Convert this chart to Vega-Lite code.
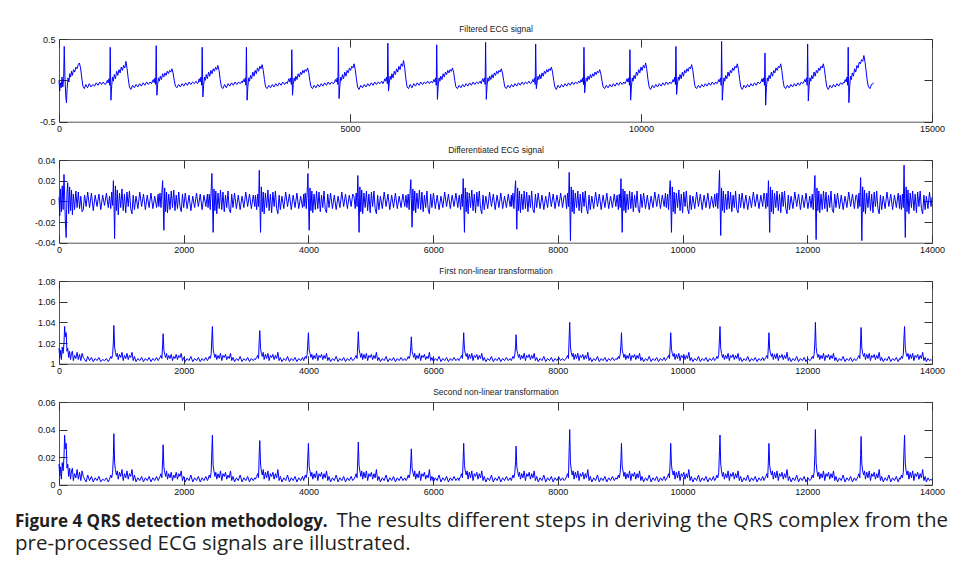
{
"$schema": "https://vega.github.io/schema/vega-lite/v6.json",
"padding": {"left": 14, "top": 24, "right": 5, "bottom": 5},
"background": "white",
"bounds": "flush",
"spacing": 38,
"datasets": {"ecg": [
{"t":0,"f":0,"d":0.004,"a":1.015,"b":0.015},
{"t":12,"f":-0.13,"d":-0.014,"a":1.006,"b":0.006},
{"t":25,"f":-0.03,"d":0.012,"a":1.013,"b":0.013},
{"t":38,"f":-0.09,"d":-0.01,"a":1.004,"b":0.004},
{"t":52,"f":0.04,"d":0.015,"a":1.016,"b":0.016},
{"t":66,"f":-0.08,"d":-0.008,"a":1.01,"b":0.01},
{"t":80,"f":0.02,"d":0.026,"a":1.02,"b":0.02},
{"t":90,"f":0.41,"d":0.006,"a":1.036,"b":0.036},
{"t":102,"f":0.05,"d":-0.02,"a":1.026,"b":0.026},
{"t":115,"f":-0.18,"d":-0.035,"a":1.03,"b":0.03},
{"t":128,"f":-0.27,"d":0.008,"a":1.012,"b":0.012},
{"t":140,"f":-0.1,"d":0.018,"a":1.015,"b":0.015},
{"t":155,"f":0.03,"d":-0.012,"a":1.006,"b":0.006},
{"t":170,"f":-0.02,"d":0.014,"a":1.012,"b":0.012},
{"t":185,"f":0.08,"d":-0.009,"a":1.004,"b":0.004},
{"t":200,"f":0.04,"d":0.011,"a":1.01,"b":0.01},
{"t":215,"f":0.11,"d":-0.013,"a":1.012,"b":0.012},
{"t":230,"f":0.06,"d":0.007,"a":1.003,"b":0.003},
{"t":250,"f":0.13,"d":-0.008,"a":1.008,"b":0.008},
{"t":270,"f":0.1,"d":0.01,"a":1.005,"b":0.005},
{"t":290,"f":0.16,"d":-0.006,"a":1.011,"b":0.011},
{"t":310,"f":0.14,"d":0.009,"a":1.004,"b":0.004},
{"t":330,"f":0.19,"d":-0.007,"a":1.009,"b":0.009},
{"t":350,"f":0.21,"d":0.005,"a":1.003,"b":0.003},
{"t":370,"f":0.15,"d":-0.01,"a":1.01,"b":0.01},
{"t":390,"f":0.04,"d":-0.008,"a":1.006,"b":0.006},
{"t":410,"f":-0.07,"d":0.006,"a":1.004,"b":0.004},
{"t":435,"f":-0.1,"d":-0.005,"a":1.002,"b":0.002},
{"t":460,"f":-0.05,"d":0.009,"a":1.007,"b":0.007},
{"t":490,"f":-0.09,"d":-0.006,"a":1.003,"b":0.003},
{"t":520,"f":-0.04,"d":0.008,"a":1.006,"b":0.006},
{"t":550,"f":-0.08,"d":-0.009,"a":1.002,"b":0.002},
{"t":580,"f":-0.05,"d":0.006,"a":1.005,"b":0.005},
{"t":610,"f":-0.07,"d":-0.005,"a":1.003,"b":0.003},
{"t":640,"f":-0.03,"d":0.007,"a":1.006,"b":0.006},
{"t":670,"f":-0.06,"d":-0.008,"a":1.002,"b":0.002},
{"t":700,"f":-0.02,"d":0.006,"a":1.004,"b":0.004},
{"t":730,"f":-0.05,"d":-0.004,"a":1.003,"b":0.003},
{"t":760,"f":-0.02,"d":0.008,"a":1.005,"b":0.005},
{"t":790,"f":-0.05,"d":-0.006,"a":1.002,"b":0.002},
{"t":810,"f":-0.04,"d":0.005,"a":1.004,"b":0.004},
{"t":830,"f":0,"d":-0.007,"a":1.007,"b":0.007},
{"t":845,"f":-0.03,"d":0.009,"a":1.005,"b":0.005},
{"t":860,"f":0.02,"d":-0.004,"a":1.009,"b":0.009},
{"t":872,"f":-0.06,"d":0.02,"a":1.021,"b":0.021},
{"t":880,"f":0.4,"d":0.003,"a":1.037,"b":0.037},
{"t":892,"f":-0.24,"d":-0.036,"a":1.016,"b":0.016},
{"t":905,"f":-0.07,"d":0.015,"a":1.011,"b":0.011},
{"t":920,"f":0.04,"d":-0.009,"a":1.007,"b":0.007},
{"t":935,"f":-0.01,"d":0.011,"a":1.01,"b":0.01},
{"t":950,"f":0.07,"d":-0.013,"a":1.004,"b":0.004},
{"t":970,"f":0.02,"d":0.008,"a":1.009,"b":0.009},
{"t":990,"f":0.11,"d":-0.006,"a":1.006,"b":0.006},
{"t":1010,"f":0.06,"d":0.012,"a":1.011,"b":0.011},
{"t":1030,"f":0.13,"d":-0.009,"a":1.003,"b":0.003},
{"t":1050,"f":0.09,"d":0.007,"a":1.008,"b":0.008},
{"t":1070,"f":0.16,"d":-0.011,"a":1.005,"b":0.005},
{"t":1090,"f":0.12,"d":0.009,"a":1.01,"b":0.01},
{"t":1110,"f":0.18,"d":-0.005,"a":1.004,"b":0.004},
{"t":1130,"f":0.15,"d":0.01,"a":1.008,"b":0.008},
{"t":1150,"f":0.23,"d":-0.007,"a":1.006,"b":0.006},
{"t":1170,"f":0.14,"d":-0.012,"a":1.011,"b":0.011},
{"t":1190,"f":0.02,"d":0.006,"a":1.003,"b":0.003},
{"t":1210,"f":-0.08,"d":-0.008,"a":1.007,"b":0.007},
{"t":1235,"f":-0.11,"d":0.005,"a":1.002,"b":0.002},
{"t":1265,"f":-0.06,"d":-0.007,"a":1.005,"b":0.005},
{"t":1295,"f":-0.09,"d":0.009,"a":1.003,"b":0.003},
{"t":1325,"f":-0.05,"d":-0.005,"a":1.006,"b":0.006},
{"t":1355,"f":-0.08,"d":0.007,"a":1.002,"b":0.002},
{"t":1385,"f":-0.04,"d":-0.008,"a":1.005,"b":0.005},
{"t":1415,"f":-0.07,"d":0.006,"a":1.003,"b":0.003},
{"t":1445,"f":-0.03,"d":-0.006,"a":1.006,"b":0.006},
{"t":1475,"f":-0.06,"d":0.008,"a":1.002,"b":0.002},
{"t":1505,"f":-0.02,"d":-0.007,"a":1.005,"b":0.005},
{"t":1535,"f":-0.05,"d":0.005,"a":1.003,"b":0.003},
{"t":1565,"f":-0.02,"d":-0.006,"a":1.006,"b":0.006},
{"t":1590,"f":-0.04,"d":0.007,"a":1.003,"b":0.003},
{"t":1600,"f":-0.02,"d":-0.005,"a":1.004,"b":0.004},
{"t":1620,"f":0.01,"d":0.008,"a":1.006,"b":0.006},
{"t":1635,"f":-0.03,"d":-0.006,"a":1.008,"b":0.008},
{"t":1650,"f":0.03,"d":0.009,"a":1.005,"b":0.005},
{"t":1662,"f":-0.05,"d":0.02,"a":1.018,"b":0.018},
{"t":1670,"f":0.42,"d":0.002,"a":1.029,"b":0.029},
{"t":1682,"f":-0.18,"d":-0.028,"a":1.013,"b":0.013},
{"t":1695,"f":-0.05,"d":0.013,"a":1.009,"b":0.009},
{"t":1710,"f":0.03,"d":-0.01,"a":1.006,"b":0.006},
{"t":1725,"f":-0.01,"d":0.009,"a":1.01,"b":0.01},
{"t":1740,"f":0.05,"d":-0.011,"a":1.004,"b":0.004},
{"t":1760,"f":0.01,"d":0.007,"a":1.008,"b":0.008},
{"t":1780,"f":0.08,"d":-0.008,"a":1.005,"b":0.005},
{"t":1800,"f":0.04,"d":0.01,"a":1.009,"b":0.009},
{"t":1820,"f":0.09,"d":-0.006,"a":1.003,"b":0.003},
{"t":1840,"f":0.06,"d":0.011,"a":1.007,"b":0.007},
{"t":1860,"f":0.11,"d":-0.009,"a":1.005,"b":0.005},
{"t":1880,"f":0.08,"d":0.006,"a":1.009,"b":0.009},
{"t":1900,"f":0.12,"d":-0.007,"a":1.004,"b":0.004},
{"t":1920,"f":0.1,"d":0.009,"a":1.008,"b":0.008},
{"t":1940,"f":0.14,"d":-0.005,"a":1.006,"b":0.006},
{"t":1960,"f":0.09,"d":-0.01,"a":1.01,"b":0.01},
{"t":1980,"f":0,"d":0.007,"a":1.003,"b":0.003},
{"t":2000,"f":-0.07,"d":-0.006,"a":1.006,"b":0.006},
{"t":2025,"f":-0.09,"d":0.008,"a":1.002,"b":0.002},
{"t":2055,"f":-0.05,"d":-0.007,"a":1.005,"b":0.005},
{"t":2085,"f":-0.08,"d":0.006,"a":1.003,"b":0.003},
{"t":2115,"f":-0.04,"d":-0.009,"a":1.007,"b":0.007},
{"t":2145,"f":-0.07,"d":0.005,"a":1.002,"b":0.002},
{"t":2175,"f":-0.03,"d":-0.006,"a":1.005,"b":0.005},
{"t":2205,"f":-0.06,"d":0.008,"a":1.003,"b":0.003},
{"t":2235,"f":-0.02,"d":-0.005,"a":1.006,"b":0.006},
{"t":2265,"f":-0.05,"d":0.007,"a":1.002,"b":0.002},
{"t":2295,"f":-0.02,"d":-0.008,"a":1.005,"b":0.005},
{"t":2325,"f":-0.04,"d":0.006,"a":1.003,"b":0.003},
{"t":2355,"f":-0.01,"d":-0.005,"a":1.006,"b":0.006},
{"t":2380,"f":-0.04,"d":0.007,"a":1.003,"b":0.003},
{"t":2390,"f":-0.03,"d":-0.006,"a":1.004,"b":0.004},
{"t":2410,"f":0.02,"d":0.007,"a":1.007,"b":0.007},
{"t":2425,"f":-0.02,"d":-0.008,"a":1.005,"b":0.005},
{"t":2440,"f":0.04,"d":0.01,"a":1.009,"b":0.009},
{"t":2452,"f":-0.06,"d":0.027,"a":1.026,"b":0.026},
{"t":2460,"f":0.4,"d":0.004,"a":1.036,"b":0.036},
{"t":2472,"f":-0.2,"d":-0.03,"a":1.014,"b":0.014},
{"t":2485,"f":-0.06,"d":0.012,"a":1.01,"b":0.01},
{"t":2500,"f":0.04,"d":-0.009,"a":1.006,"b":0.006},
{"t":2515,"f":0,"d":0.01,"a":1.009,"b":0.009},
{"t":2530,"f":0.07,"d":-0.012,"a":1.004,"b":0.004},
{"t":2550,"f":0.02,"d":0.008,"a":1.008,"b":0.008},
{"t":2570,"f":0.1,"d":-0.007,"a":1.005,"b":0.005},
{"t":2590,"f":0.05,"d":0.011,"a":1.01,"b":0.01},
{"t":2610,"f":0.12,"d":-0.008,"a":1.003,"b":0.003},
{"t":2630,"f":0.08,"d":0.009,"a":1.008,"b":0.008},
{"t":2650,"f":0.14,"d":-0.01,"a":1.006,"b":0.006},
{"t":2670,"f":0.11,"d":0.006,"a":1.009,"b":0.009},
{"t":2690,"f":0.16,"d":-0.006,"a":1.004,"b":0.004},
{"t":2710,"f":0.13,"d":0.01,"a":1.007,"b":0.007},
{"t":2730,"f":0.18,"d":-0.008,"a":1.005,"b":0.005},
{"t":2750,"f":0.12,"d":-0.011,"a":1.01,"b":0.01},
{"t":2770,"f":0.01,"d":0.007,"a":1.003,"b":0.003},
{"t":2790,"f":-0.08,"d":-0.006,"a":1.006,"b":0.006},
{"t":2815,"f":-0.1,"d":0.008,"a":1.002,"b":0.002},
{"t":2845,"f":-0.05,"d":-0.007,"a":1.005,"b":0.005},
{"t":2875,"f":-0.09,"d":0.006,"a":1.003,"b":0.003},
{"t":2905,"f":-0.04,"d":-0.008,"a":1.007,"b":0.007},
{"t":2935,"f":-0.07,"d":0.005,"a":1.002,"b":0.002},
{"t":2965,"f":-0.03,"d":-0.006,"a":1.005,"b":0.005},
{"t":2995,"f":-0.06,"d":0.009,"a":1.003,"b":0.003},
{"t":3025,"f":-0.02,"d":-0.005,"a":1.006,"b":0.006},
{"t":3055,"f":-0.05,"d":0.007,"a":1.002,"b":0.002},
{"t":3085,"f":-0.02,"d":-0.007,"a":1.005,"b":0.005},
{"t":3115,"f":-0.04,"d":0.006,"a":1.003,"b":0.003},
{"t":3140,"f":-0.01,"d":-0.005,"a":1.005,"b":0.005},
{"t":3150,"f":-0.03,"d":0.006,"a":1.004,"b":0.004},
{"t":3170,"f":0.01,"d":-0.008,"a":1.006,"b":0.006},
{"t":3185,"f":-0.02,"d":0.007,"a":1.008,"b":0.008},
{"t":3200,"f":0.03,"d":-0.005,"a":1.005,"b":0.005},
{"t":3212,"f":-0.06,"d":0.03,"a":1.024,"b":0.024},
{"t":3220,"f":0.4,"d":0.002,"a":1.032,"b":0.032},
{"t":3232,"f":-0.24,"d":-0.03,"a":1.015,"b":0.015},
{"t":3245,"f":-0.08,"d":0.014,"a":1.01,"b":0.01},
{"t":3260,"f":0.03,"d":-0.01,"a":1.007,"b":0.007},
{"t":3275,"f":-0.01,"d":0.009,"a":1.011,"b":0.011},
{"t":3290,"f":0.06,"d":-0.012,"a":1.004,"b":0.004},
{"t":3310,"f":0.02,"d":0.008,"a":1.009,"b":0.009},
{"t":3330,"f":0.1,"d":-0.006,"a":1.005,"b":0.005},
{"t":3350,"f":0.05,"d":0.011,"a":1.01,"b":0.01},
{"t":3370,"f":0.12,"d":-0.009,"a":1.003,"b":0.003},
{"t":3390,"f":0.08,"d":0.007,"a":1.008,"b":0.008},
{"t":3410,"f":0.15,"d":-0.011,"a":1.006,"b":0.006},
{"t":3430,"f":0.11,"d":0.009,"a":1.009,"b":0.009},
{"t":3450,"f":0.17,"d":-0.005,"a":1.004,"b":0.004},
{"t":3470,"f":0.14,"d":0.01,"a":1.008,"b":0.008},
{"t":3490,"f":0.19,"d":-0.007,"a":1.005,"b":0.005},
{"t":3510,"f":0.12,"d":-0.012,"a":1.011,"b":0.011},
{"t":3530,"f":0.01,"d":0.006,"a":1.003,"b":0.003},
{"t":3550,"f":-0.08,"d":-0.008,"a":1.006,"b":0.006},
{"t":3575,"f":-0.1,"d":0.005,"a":1.002,"b":0.002},
{"t":3605,"f":-0.06,"d":-0.007,"a":1.005,"b":0.005},
{"t":3635,"f":-0.09,"d":0.009,"a":1.003,"b":0.003},
{"t":3665,"f":-0.05,"d":-0.005,"a":1.007,"b":0.007},
{"t":3695,"f":-0.08,"d":0.007,"a":1.002,"b":0.002},
{"t":3725,"f":-0.04,"d":-0.008,"a":1.005,"b":0.005},
{"t":3755,"f":-0.07,"d":0.006,"a":1.003,"b":0.003},
{"t":3785,"f":-0.03,"d":-0.006,"a":1.006,"b":0.006},
{"t":3815,"f":-0.06,"d":0.008,"a":1.002,"b":0.002},
{"t":3845,"f":-0.02,"d":-0.007,"a":1.005,"b":0.005},
{"t":3875,"f":-0.05,"d":0.005,"a":1.003,"b":0.003},
{"t":3905,"f":-0.02,"d":-0.006,"a":1.006,"b":0.006},
{"t":3925,"f":-0.04,"d":0.007,"a":1.003,"b":0.003},
{"t":3930,"f":-0.02,"d":-0.005,"a":1.004,"b":0.004},
{"t":3950,"f":0.02,"d":0.008,"a":1.007,"b":0.007},
{"t":3965,"f":-0.02,"d":-0.007,"a":1.005,"b":0.005},
{"t":3980,"f":0.03,"d":0.009,"a":1.009,"b":0.009},
{"t":3992,"f":-0.05,"d":0.027,"a":1.022,"b":0.022},
{"t":4000,"f":0.37,"d":0.003,"a":1.03,"b":0.03},
{"t":4012,"f":-0.18,"d":-0.028,"a":1.013,"b":0.013},
{"t":4025,"f":-0.05,"d":0.013,"a":1.01,"b":0.01},
{"t":4040,"f":0.03,"d":-0.009,"a":1.006,"b":0.006},
{"t":4055,"f":-0.01,"d":0.01,"a":1.009,"b":0.009},
{"t":4070,"f":0.05,"d":-0.011,"a":1.004,"b":0.004},
{"t":4090,"f":0.01,"d":0.007,"a":1.008,"b":0.008},
{"t":4110,"f":0.08,"d":-0.008,"a":1.005,"b":0.005},
{"t":4130,"f":0.04,"d":0.01,"a":1.01,"b":0.01},
{"t":4150,"f":0.1,"d":-0.007,"a":1.003,"b":0.003},
{"t":4170,"f":0.07,"d":0.009,"a":1.008,"b":0.008},
{"t":4190,"f":0.12,"d":-0.01,"a":1.006,"b":0.006},
{"t":4210,"f":0.09,"d":0.006,"a":1.009,"b":0.009},
{"t":4230,"f":0.13,"d":-0.006,"a":1.004,"b":0.004},
{"t":4250,"f":0.11,"d":0.01,"a":1.008,"b":0.008},
{"t":4270,"f":0.15,"d":-0.008,"a":1.005,"b":0.005},
{"t":4290,"f":0.1,"d":-0.011,"a":1.01,"b":0.01},
{"t":4310,"f":0,"d":0.007,"a":1.003,"b":0.003},
{"t":4330,"f":-0.08,"d":-0.006,"a":1.006,"b":0.006},
{"t":4355,"f":-0.1,"d":0.008,"a":1.002,"b":0.002},
{"t":4385,"f":-0.06,"d":-0.007,"a":1.005,"b":0.005},
{"t":4415,"f":-0.09,"d":0.006,"a":1.003,"b":0.003},
{"t":4445,"f":-0.05,"d":-0.008,"a":1.007,"b":0.007},
{"t":4475,"f":-0.08,"d":0.005,"a":1.002,"b":0.002},
{"t":4505,"f":-0.04,"d":-0.006,"a":1.005,"b":0.005},
{"t":4535,"f":-0.07,"d":0.009,"a":1.003,"b":0.003},
{"t":4565,"f":-0.03,"d":-0.005,"a":1.006,"b":0.006},
{"t":4595,"f":-0.06,"d":0.007,"a":1.002,"b":0.002},
{"t":4625,"f":-0.02,"d":-0.007,"a":1.005,"b":0.005},
{"t":4655,"f":-0.05,"d":0.006,"a":1.003,"b":0.003},
{"t":4685,"f":-0.02,"d":-0.005,"a":1.006,"b":0.006},
{"t":4710,"f":-0.04,"d":0.007,"a":1.003,"b":0.003},
{"t":4730,"f":-0.03,"d":0.005,"a":1.004,"b":0.004},
{"t":4750,"f":0.01,"d":-0.007,"a":1.006,"b":0.006},
{"t":4765,"f":-0.02,"d":0.008,"a":1.008,"b":0.008},
{"t":4780,"f":0.03,"d":-0.005,"a":1.005,"b":0.005},
{"t":4792,"f":-0.05,"d":0.025,"a":1.02,"b":0.02},
{"t":4800,"f":0.4,"d":0.004,"a":1.031,"b":0.031},
{"t":4812,"f":-0.22,"d":-0.03,"a":1.014,"b":0.014},
{"t":4825,"f":-0.07,"d":0.014,"a":1.01,"b":0.01},
{"t":4840,"f":0.04,"d":-0.01,"a":1.006,"b":0.006},
{"t":4855,"f":0,"d":0.011,"a":1.01,"b":0.01},
{"t":4870,"f":0.07,"d":-0.012,"a":1.004,"b":0.004},
{"t":4890,"f":0.02,"d":0.008,"a":1.009,"b":0.009},
{"t":4910,"f":0.1,"d":-0.006,"a":1.005,"b":0.005},
{"t":4930,"f":0.05,"d":0.01,"a":1.01,"b":0.01},
{"t":4950,"f":0.12,"d":-0.009,"a":1.003,"b":0.003},
{"t":4970,"f":0.09,"d":0.007,"a":1.008,"b":0.008},
{"t":4990,"f":0.15,"d":-0.011,"a":1.006,"b":0.006},
{"t":5010,"f":0.12,"d":0.009,"a":1.009,"b":0.009},
{"t":5030,"f":0.17,"d":-0.005,"a":1.004,"b":0.004},
{"t":5050,"f":0.15,"d":0.01,"a":1.008,"b":0.008},
{"t":5070,"f":0.2,"d":-0.007,"a":1.005,"b":0.005},
{"t":5090,"f":0.13,"d":-0.012,"a":1.011,"b":0.011},
{"t":5110,"f":0.02,"d":0.006,"a":1.003,"b":0.003},
{"t":5130,"f":-0.08,"d":-0.008,"a":1.006,"b":0.006},
{"t":5155,"f":-0.11,"d":0.005,"a":1.002,"b":0.002},
{"t":5185,"f":-0.06,"d":-0.007,"a":1.005,"b":0.005},
{"t":5215,"f":-0.09,"d":0.009,"a":1.003,"b":0.003},
{"t":5245,"f":-0.05,"d":-0.005,"a":1.007,"b":0.007},
{"t":5275,"f":-0.08,"d":0.007,"a":1.002,"b":0.002},
{"t":5305,"f":-0.04,"d":-0.008,"a":1.005,"b":0.005},
{"t":5335,"f":-0.07,"d":0.006,"a":1.003,"b":0.003},
{"t":5365,"f":-0.03,"d":-0.006,"a":1.006,"b":0.006},
{"t":5395,"f":-0.06,"d":0.008,"a":1.002,"b":0.002},
{"t":5425,"f":-0.02,"d":-0.007,"a":1.005,"b":0.005},
{"t":5455,"f":-0.05,"d":0.005,"a":1.003,"b":0.003},
{"t":5485,"f":-0.02,"d":-0.006,"a":1.006,"b":0.006},
{"t":5515,"f":-0.04,"d":0.007,"a":1.003,"b":0.003},
{"t":5545,"f":-0.01,"d":-0.005,"a":1.005,"b":0.005},
{"t":5565,"f":-0.04,"d":0.006,"a":1.003,"b":0.003},
{"t":5580,"f":-0.02,"d":-0.006,"a":1.004,"b":0.004},
{"t":5600,"f":0.02,"d":0.007,"a":1.007,"b":0.007},
{"t":5615,"f":-0.01,"d":-0.008,"a":1.005,"b":0.005},
{"t":5630,"f":0.04,"d":0.009,"a":1.008,"b":0.008},
{"t":5642,"f":-0.04,"d":0.021,"a":1.017,"b":0.017},
{"t":5650,"f":0.45,"d":0.003,"a":1.026,"b":0.026},
{"t":5662,"f":-0.13,"d":-0.025,"a":1.012,"b":0.012},
{"t":5675,"f":-0.03,"d":0.012,"a":1.009,"b":0.009},
{"t":5690,"f":0.05,"d":-0.009,"a":1.006,"b":0.006},
{"t":5705,"f":0.01,"d":0.01,"a":1.01,"b":0.01},
{"t":5720,"f":0.08,"d":-0.011,"a":1.004,"b":0.004},
{"t":5740,"f":0.03,"d":0.008,"a":1.008,"b":0.008},
{"t":5760,"f":0.11,"d":-0.007,"a":1.005,"b":0.005},
{"t":5780,"f":0.07,"d":0.011,"a":1.01,"b":0.01},
{"t":5800,"f":0.14,"d":-0.008,"a":1.003,"b":0.003},
{"t":5820,"f":0.1,"d":0.009,"a":1.008,"b":0.008},
{"t":5840,"f":0.17,"d":-0.01,"a":1.006,"b":0.006},
{"t":5860,"f":0.13,"d":0.006,"a":1.009,"b":0.009},
{"t":5880,"f":0.2,"d":-0.006,"a":1.004,"b":0.004},
{"t":5900,"f":0.17,"d":0.01,"a":1.007,"b":0.007},
{"t":5920,"f":0.24,"d":-0.008,"a":1.005,"b":0.005},
{"t":5940,"f":0.15,"d":-0.012,"a":1.011,"b":0.011},
{"t":5960,"f":0.02,"d":0.007,"a":1.003,"b":0.003},
{"t":5980,"f":-0.08,"d":-0.006,"a":1.006,"b":0.006},
{"t":6005,"f":-0.1,"d":0.008,"a":1.002,"b":0.002},
{"t":6035,"f":-0.05,"d":-0.007,"a":1.005,"b":0.005},
{"t":6065,"f":-0.09,"d":0.006,"a":1.003,"b":0.003},
{"t":6095,"f":-0.04,"d":-0.008,"a":1.007,"b":0.007},
{"t":6125,"f":-0.07,"d":0.005,"a":1.002,"b":0.002},
{"t":6155,"f":-0.03,"d":-0.006,"a":1.005,"b":0.005},
{"t":6185,"f":-0.06,"d":0.009,"a":1.003,"b":0.003},
{"t":6215,"f":-0.02,"d":-0.005,"a":1.006,"b":0.006},
{"t":6245,"f":-0.05,"d":0.007,"a":1.002,"b":0.002},
{"t":6275,"f":-0.02,"d":-0.007,"a":1.005,"b":0.005},
{"t":6305,"f":-0.04,"d":0.006,"a":1.003,"b":0.003},
{"t":6335,"f":-0.01,"d":-0.005,"a":1.006,"b":0.006},
{"t":6365,"f":-0.04,"d":0.008,"a":1.003,"b":0.003},
{"t":6395,"f":-0.01,"d":-0.006,"a":1.005,"b":0.005},
{"t":6415,"f":-0.03,"d":0.005,"a":1.003,"b":0.003},
{"t":6420,"f":-0.03,"d":0.006,"a":1.004,"b":0.004},
{"t":6440,"f":0.01,"d":-0.008,"a":1.006,"b":0.006},
{"t":6455,"f":-0.02,"d":0.007,"a":1.008,"b":0.008},
{"t":6470,"f":0.03,"d":-0.005,"a":1.005,"b":0.005},
{"t":6482,"f":-0.06,"d":0.022,"a":1.019,"b":0.019},
{"t":6490,"f":0.43,"d":0.002,"a":1.03,"b":0.03},
{"t":6502,"f":-0.23,"d":-0.03,"a":1.014,"b":0.014},
{"t":6515,"f":-0.07,"d":0.013,"a":1.01,"b":0.01},
{"t":6530,"f":0.03,"d":-0.01,"a":1.007,"b":0.007},
{"t":6545,"f":-0.01,"d":0.009,"a":1.01,"b":0.01},
{"t":6560,"f":0.05,"d":-0.012,"a":1.004,"b":0.004},
{"t":6580,"f":0.01,"d":0.008,"a":1.009,"b":0.009},
{"t":6600,"f":0.08,"d":-0.006,"a":1.005,"b":0.005},
{"t":6620,"f":0.04,"d":0.011,"a":1.01,"b":0.01},
{"t":6640,"f":0.1,"d":-0.009,"a":1.003,"b":0.003},
{"t":6660,"f":0.07,"d":0.007,"a":1.008,"b":0.008},
{"t":6680,"f":0.12,"d":-0.011,"a":1.006,"b":0.006},
{"t":6700,"f":0.09,"d":0.009,"a":1.009,"b":0.009},
{"t":6720,"f":0.13,"d":-0.005,"a":1.004,"b":0.004},
{"t":6740,"f":0.11,"d":0.01,"a":1.008,"b":0.008},
{"t":6760,"f":0.15,"d":-0.007,"a":1.005,"b":0.005},
{"t":6780,"f":0.1,"d":-0.012,"a":1.01,"b":0.01},
{"t":6800,"f":0,"d":0.006,"a":1.003,"b":0.003},
{"t":6820,"f":-0.08,"d":-0.008,"a":1.006,"b":0.006},
{"t":6845,"f":-0.1,"d":0.005,"a":1.002,"b":0.002},
{"t":6875,"f":-0.06,"d":-0.007,"a":1.005,"b":0.005},
{"t":6905,"f":-0.09,"d":0.009,"a":1.003,"b":0.003},
{"t":6935,"f":-0.05,"d":-0.005,"a":1.007,"b":0.007},
{"t":6965,"f":-0.08,"d":0.007,"a":1.002,"b":0.002},
{"t":6995,"f":-0.04,"d":-0.008,"a":1.005,"b":0.005},
{"t":7025,"f":-0.07,"d":0.006,"a":1.003,"b":0.003},
{"t":7055,"f":-0.03,"d":-0.006,"a":1.006,"b":0.006},
{"t":7085,"f":-0.06,"d":0.008,"a":1.002,"b":0.002},
{"t":7115,"f":-0.02,"d":-0.007,"a":1.005,"b":0.005},
{"t":7145,"f":-0.05,"d":0.005,"a":1.003,"b":0.003},
{"t":7175,"f":-0.02,"d":-0.006,"a":1.006,"b":0.006},
{"t":7205,"f":-0.04,"d":0.007,"a":1.003,"b":0.003},
{"t":7235,"f":-0.01,"d":-0.005,"a":1.005,"b":0.005},
{"t":7255,"f":-0.04,"d":0.006,"a":1.003,"b":0.003},
{"t":7260,"f":-0.02,"d":-0.005,"a":1.004,"b":0.004},
{"t":7280,"f":0.02,"d":0.008,"a":1.007,"b":0.007},
{"t":7295,"f":-0.02,"d":-0.007,"a":1.005,"b":0.005},
{"t":7310,"f":0.03,"d":0.009,"a":1.009,"b":0.009},
{"t":7322,"f":-0.05,"d":0.02,"a":1.017,"b":0.017},
{"t":7330,"f":0.46,"d":0.003,"a":1.028,"b":0.028},
{"t":7342,"f":-0.23,"d":-0.027,"a":1.013,"b":0.013},
{"t":7355,"f":-0.06,"d":0.013,"a":1.01,"b":0.01},
{"t":7370,"f":0.03,"d":-0.009,"a":1.006,"b":0.006},
{"t":7385,"f":-0.01,"d":0.01,"a":1.009,"b":0.009},
{"t":7400,"f":0.05,"d":-0.011,"a":1.004,"b":0.004},
{"t":7420,"f":0.01,"d":0.007,"a":1.008,"b":0.008},
{"t":7440,"f":0.07,"d":-0.008,"a":1.005,"b":0.005},
{"t":7460,"f":0.03,"d":0.01,"a":1.01,"b":0.01},
{"t":7480,"f":0.09,"d":-0.007,"a":1.003,"b":0.003},
{"t":7500,"f":0.06,"d":0.009,"a":1.008,"b":0.008},
{"t":7520,"f":0.11,"d":-0.01,"a":1.006,"b":0.006},
{"t":7540,"f":0.08,"d":0.006,"a":1.009,"b":0.009},
{"t":7560,"f":0.12,"d":-0.006,"a":1.004,"b":0.004},
{"t":7580,"f":0.1,"d":0.01,"a":1.008,"b":0.008},
{"t":7600,"f":0.14,"d":-0.008,"a":1.005,"b":0.005},
{"t":7620,"f":0.09,"d":-0.011,"a":1.01,"b":0.01},
{"t":7640,"f":0,"d":0.007,"a":1.003,"b":0.003},
{"t":7660,"f":-0.08,"d":-0.006,"a":1.006,"b":0.006},
{"t":7685,"f":-0.1,"d":0.008,"a":1.002,"b":0.002},
{"t":7715,"f":-0.06,"d":-0.007,"a":1.005,"b":0.005},
{"t":7745,"f":-0.09,"d":0.006,"a":1.003,"b":0.003},
{"t":7775,"f":-0.05,"d":-0.008,"a":1.007,"b":0.007},
{"t":7805,"f":-0.08,"d":0.005,"a":1.002,"b":0.002},
{"t":7835,"f":-0.04,"d":-0.006,"a":1.005,"b":0.005},
{"t":7865,"f":-0.07,"d":0.009,"a":1.003,"b":0.003},
{"t":7895,"f":-0.03,"d":-0.005,"a":1.006,"b":0.006},
{"t":7925,"f":-0.06,"d":0.007,"a":1.002,"b":0.002},
{"t":7955,"f":-0.02,"d":-0.007,"a":1.005,"b":0.005},
{"t":7985,"f":-0.05,"d":0.006,"a":1.003,"b":0.003},
{"t":8015,"f":-0.02,"d":-0.005,"a":1.006,"b":0.006},
{"t":8045,"f":-0.04,"d":0.008,"a":1.003,"b":0.003},
{"t":8075,"f":-0.01,"d":-0.006,"a":1.005,"b":0.005},
{"t":8100,"f":-0.04,"d":0.005,"a":1.003,"b":0.003},
{"t":8120,"f":-0.03,"d":0.006,"a":1.004,"b":0.004},
{"t":8140,"f":0.01,"d":-0.007,"a":1.006,"b":0.006},
{"t":8155,"f":-0.02,"d":0.008,"a":1.008,"b":0.008},
{"t":8170,"f":0.03,"d":-0.005,"a":1.005,"b":0.005},
{"t":8182,"f":-0.05,"d":0.028,"a":1.027,"b":0.027},
{"t":8190,"f":0.44,"d":0.004,"a":1.04,"b":0.04},
{"t":8202,"f":-0.1,"d":-0.038,"a":1.016,"b":0.016},
{"t":8215,"f":-0.02,"d":0.014,"a":1.011,"b":0.011},
{"t":8230,"f":0.05,"d":-0.01,"a":1.007,"b":0.007},
{"t":8245,"f":0.01,"d":0.011,"a":1.01,"b":0.01},
{"t":8260,"f":0.07,"d":-0.012,"a":1.004,"b":0.004},
{"t":8280,"f":0.02,"d":0.008,"a":1.009,"b":0.009},
{"t":8300,"f":0.09,"d":-0.006,"a":1.005,"b":0.005},
{"t":8320,"f":0.05,"d":0.01,"a":1.01,"b":0.01},
{"t":8340,"f":0.11,"d":-0.009,"a":1.003,"b":0.003},
{"t":8360,"f":0.08,"d":0.007,"a":1.008,"b":0.008},
{"t":8380,"f":0.13,"d":-0.011,"a":1.006,"b":0.006},
{"t":8400,"f":0.1,"d":0.009,"a":1.009,"b":0.009},
{"t":8420,"f":0.14,"d":-0.005,"a":1.004,"b":0.004},
{"t":8440,"f":0.12,"d":0.01,"a":1.008,"b":0.008},
{"t":8460,"f":0.16,"d":-0.007,"a":1.005,"b":0.005},
{"t":8480,"f":0.1,"d":-0.012,"a":1.011,"b":0.011},
{"t":8500,"f":0,"d":0.006,"a":1.003,"b":0.003},
{"t":8520,"f":-0.08,"d":-0.008,"a":1.006,"b":0.006},
{"t":8545,"f":-0.11,"d":0.005,"a":1.002,"b":0.002},
{"t":8575,"f":-0.06,"d":-0.007,"a":1.005,"b":0.005},
{"t":8605,"f":-0.09,"d":0.009,"a":1.003,"b":0.003},
{"t":8635,"f":-0.05,"d":-0.005,"a":1.007,"b":0.007},
{"t":8665,"f":-0.08,"d":0.007,"a":1.002,"b":0.002},
{"t":8695,"f":-0.04,"d":-0.008,"a":1.005,"b":0.005},
{"t":8725,"f":-0.07,"d":0.006,"a":1.003,"b":0.003},
{"t":8755,"f":-0.03,"d":-0.006,"a":1.006,"b":0.006},
{"t":8785,"f":-0.06,"d":0.008,"a":1.002,"b":0.002},
{"t":8815,"f":-0.02,"d":-0.007,"a":1.005,"b":0.005},
{"t":8845,"f":-0.05,"d":0.005,"a":1.003,"b":0.003},
{"t":8875,"f":-0.02,"d":-0.006,"a":1.006,"b":0.006},
{"t":8905,"f":-0.04,"d":0.007,"a":1.003,"b":0.003},
{"t":8930,"f":-0.01,"d":-0.005,"a":1.005,"b":0.005},
{"t":8950,"f":-0.03,"d":0.006,"a":1.004,"b":0.004},
{"t":8970,"f":0.01,"d":-0.008,"a":1.007,"b":0.007},
{"t":8985,"f":-0.02,"d":0.007,"a":1.005,"b":0.005},
{"t":9000,"f":0.03,"d":-0.006,"a":1.009,"b":0.009},
{"t":9012,"f":-0.05,"d":0.022,"a":1.019,"b":0.019},
{"t":9020,"f":0.4,"d":0.003,"a":1.03,"b":0.03},
{"t":9032,"f":-0.15,"d":-0.03,"a":1.013,"b":0.013},
{"t":9045,"f":-0.04,"d":0.012,"a":1.01,"b":0.01},
{"t":9060,"f":0.03,"d":-0.009,"a":1.006,"b":0.006},
{"t":9075,"f":-0.01,"d":0.01,"a":1.009,"b":0.009},
{"t":9090,"f":0.05,"d":-0.011,"a":1.004,"b":0.004},
{"t":9110,"f":0.01,"d":0.007,"a":1.008,"b":0.008},
{"t":9130,"f":0.07,"d":-0.008,"a":1.005,"b":0.005},
{"t":9150,"f":0.03,"d":0.01,"a":1.01,"b":0.01},
{"t":9170,"f":0.08,"d":-0.007,"a":1.003,"b":0.003},
{"t":9190,"f":0.05,"d":0.009,"a":1.008,"b":0.008},
{"t":9210,"f":0.1,"d":-0.01,"a":1.006,"b":0.006},
{"t":9230,"f":0.07,"d":0.006,"a":1.009,"b":0.009},
{"t":9250,"f":0.11,"d":-0.006,"a":1.004,"b":0.004},
{"t":9270,"f":0.09,"d":0.01,"a":1.008,"b":0.008},
{"t":9290,"f":0.13,"d":-0.008,"a":1.005,"b":0.005},
{"t":9310,"f":0.08,"d":-0.011,"a":1.01,"b":0.01},
{"t":9330,"f":-0.01,"d":0.007,"a":1.003,"b":0.003},
{"t":9350,"f":-0.08,"d":-0.006,"a":1.006,"b":0.006},
{"t":9375,"f":-0.1,"d":0.008,"a":1.002,"b":0.002},
{"t":9405,"f":-0.06,"d":-0.007,"a":1.005,"b":0.005},
{"t":9435,"f":-0.09,"d":0.006,"a":1.003,"b":0.003},
{"t":9465,"f":-0.05,"d":-0.008,"a":1.007,"b":0.007},
{"t":9495,"f":-0.08,"d":0.005,"a":1.002,"b":0.002},
{"t":9525,"f":-0.04,"d":-0.006,"a":1.005,"b":0.005},
{"t":9555,"f":-0.07,"d":0.009,"a":1.003,"b":0.003},
{"t":9585,"f":-0.03,"d":-0.005,"a":1.006,"b":0.006},
{"t":9615,"f":-0.06,"d":0.007,"a":1.002,"b":0.002},
{"t":9645,"f":-0.02,"d":-0.007,"a":1.005,"b":0.005},
{"t":9675,"f":-0.05,"d":0.006,"a":1.003,"b":0.003},
{"t":9705,"f":-0.02,"d":-0.005,"a":1.006,"b":0.006},
{"t":9725,"f":-0.04,"d":0.008,"a":1.003,"b":0.003},
{"t":9740,"f":-0.02,"d":-0.006,"a":1.004,"b":0.004},
{"t":9760,"f":0.02,"d":0.007,"a":1.006,"b":0.006},
{"t":9775,"f":-0.02,"d":-0.008,"a":1.008,"b":0.008},
{"t":9790,"f":0.03,"d":0.009,"a":1.005,"b":0.005},
{"t":9802,"f":-0.06,"d":0.02,"a":1.018,"b":0.018},
{"t":9810,"f":0.37,"d":0.002,"a":1.03,"b":0.03},
{"t":9822,"f":-0.24,"d":-0.03,"a":1.014,"b":0.014},
{"t":9835,"f":-0.08,"d":0.014,"a":1.01,"b":0.01},
{"t":9850,"f":0.03,"d":-0.01,"a":1.007,"b":0.007},
{"t":9865,"f":-0.01,"d":0.009,"a":1.01,"b":0.01},
{"t":9880,"f":0.06,"d":-0.012,"a":1.004,"b":0.004},
{"t":9900,"f":0.02,"d":0.008,"a":1.009,"b":0.009},
{"t":9920,"f":0.1,"d":-0.006,"a":1.005,"b":0.005},
{"t":9940,"f":0.06,"d":0.011,"a":1.01,"b":0.01},
{"t":9960,"f":0.13,"d":-0.009,"a":1.003,"b":0.003},
{"t":9980,"f":0.09,"d":0.007,"a":1.008,"b":0.008},
{"t":10000,"f":0.16,"d":-0.011,"a":1.006,"b":0.006},
{"t":10020,"f":0.12,"d":0.009,"a":1.009,"b":0.009},
{"t":10040,"f":0.18,"d":-0.005,"a":1.004,"b":0.004},
{"t":10060,"f":0.15,"d":0.01,"a":1.008,"b":0.008},
{"t":10080,"f":0.21,"d":-0.007,"a":1.005,"b":0.005},
{"t":10100,"f":0.13,"d":-0.012,"a":1.011,"b":0.011},
{"t":10120,"f":0.01,"d":0.006,"a":1.003,"b":0.003},
{"t":10140,"f":-0.08,"d":-0.008,"a":1.006,"b":0.006},
{"t":10165,"f":-0.11,"d":0.005,"a":1.002,"b":0.002},
{"t":10195,"f":-0.06,"d":-0.007,"a":1.005,"b":0.005},
{"t":10225,"f":-0.09,"d":0.009,"a":1.003,"b":0.003},
{"t":10255,"f":-0.05,"d":-0.005,"a":1.007,"b":0.007},
{"t":10285,"f":-0.08,"d":0.007,"a":1.002,"b":0.002},
{"t":10315,"f":-0.04,"d":-0.008,"a":1.005,"b":0.005},
{"t":10345,"f":-0.07,"d":0.006,"a":1.003,"b":0.003},
{"t":10375,"f":-0.03,"d":-0.006,"a":1.006,"b":0.006},
{"t":10405,"f":-0.06,"d":0.008,"a":1.002,"b":0.002},
{"t":10435,"f":-0.02,"d":-0.007,"a":1.005,"b":0.005},
{"t":10465,"f":-0.05,"d":0.005,"a":1.003,"b":0.003},
{"t":10495,"f":-0.02,"d":-0.006,"a":1.006,"b":0.006},
{"t":10515,"f":-0.04,"d":0.007,"a":1.003,"b":0.003},
{"t":10530,"f":-0.03,"d":-0.005,"a":1.004,"b":0.004},
{"t":10550,"f":0.01,"d":0.008,"a":1.007,"b":0.007},
{"t":10565,"f":-0.02,"d":-0.007,"a":1.005,"b":0.005},
{"t":10580,"f":0.04,"d":0.009,"a":1.009,"b":0.009},
{"t":10592,"f":-0.05,"d":0.03,"a":1.025,"b":0.025},
{"t":10600,"f":0.41,"d":0.004,"a":1.036,"b":0.036},
{"t":10612,"f":-0.17,"d":-0.033,"a":1.015,"b":0.015},
{"t":10625,"f":-0.05,"d":0.013,"a":1.01,"b":0.01},
{"t":10640,"f":0.04,"d":-0.009,"a":1.006,"b":0.006},
{"t":10655,"f":0,"d":0.01,"a":1.009,"b":0.009},
{"t":10670,"f":0.07,"d":-0.011,"a":1.004,"b":0.004},
{"t":10690,"f":0.02,"d":0.007,"a":1.008,"b":0.008},
{"t":10710,"f":0.1,"d":-0.008,"a":1.005,"b":0.005},
{"t":10730,"f":0.05,"d":0.01,"a":1.01,"b":0.01},
{"t":10750,"f":0.12,"d":-0.007,"a":1.003,"b":0.003},
{"t":10770,"f":0.09,"d":0.009,"a":1.008,"b":0.008},
{"t":10790,"f":0.14,"d":-0.01,"a":1.006,"b":0.006},
{"t":10810,"f":0.11,"d":0.006,"a":1.009,"b":0.009},
{"t":10830,"f":0.16,"d":-0.006,"a":1.004,"b":0.004},
{"t":10850,"f":0.14,"d":0.01,"a":1.008,"b":0.008},
{"t":10870,"f":0.19,"d":-0.008,"a":1.005,"b":0.005},
{"t":10890,"f":0.12,"d":-0.011,"a":1.01,"b":0.01},
{"t":10910,"f":0.01,"d":0.007,"a":1.003,"b":0.003},
{"t":10930,"f":-0.08,"d":-0.006,"a":1.006,"b":0.006},
{"t":10955,"f":-0.1,"d":0.008,"a":1.002,"b":0.002},
{"t":10985,"f":-0.06,"d":-0.007,"a":1.005,"b":0.005},
{"t":11015,"f":-0.09,"d":0.006,"a":1.003,"b":0.003},
{"t":11045,"f":-0.05,"d":-0.008,"a":1.007,"b":0.007},
{"t":11075,"f":-0.08,"d":0.005,"a":1.002,"b":0.002},
{"t":11105,"f":-0.04,"d":-0.006,"a":1.005,"b":0.005},
{"t":11135,"f":-0.07,"d":0.009,"a":1.003,"b":0.003},
{"t":11165,"f":-0.03,"d":-0.005,"a":1.006,"b":0.006},
{"t":11195,"f":-0.06,"d":0.007,"a":1.002,"b":0.002},
{"t":11225,"f":-0.02,"d":-0.007,"a":1.005,"b":0.005},
{"t":11255,"f":-0.05,"d":0.006,"a":1.003,"b":0.003},
{"t":11285,"f":-0.02,"d":-0.005,"a":1.006,"b":0.006},
{"t":11305,"f":-0.04,"d":0.008,"a":1.003,"b":0.003},
{"t":11315,"f":-0.03,"d":0.006,"a":1.004,"b":0.004},
{"t":11335,"f":0.01,"d":-0.007,"a":1.006,"b":0.006},
{"t":11350,"f":-0.02,"d":0.008,"a":1.008,"b":0.008},
{"t":11365,"f":0.03,"d":-0.005,"a":1.005,"b":0.005},
{"t":11377,"f":-0.06,"d":0.02,"a":1.018,"b":0.018},
{"t":11385,"f":0.47,"d":0.003,"a":1.03,"b":0.03},
{"t":11397,"f":-0.24,"d":-0.03,"a":1.014,"b":0.014},
{"t":11410,"f":-0.08,"d":0.014,"a":1.01,"b":0.01},
{"t":11425,"f":0.03,"d":-0.01,"a":1.007,"b":0.007},
{"t":11440,"f":-0.01,"d":0.011,"a":1.01,"b":0.01},
{"t":11455,"f":0.06,"d":-0.012,"a":1.004,"b":0.004},
{"t":11475,"f":0.02,"d":0.008,"a":1.009,"b":0.009},
{"t":11495,"f":0.1,"d":-0.006,"a":1.005,"b":0.005},
{"t":11515,"f":0.05,"d":0.01,"a":1.01,"b":0.01},
{"t":11535,"f":0.12,"d":-0.009,"a":1.003,"b":0.003},
{"t":11555,"f":0.09,"d":0.007,"a":1.008,"b":0.008},
{"t":11575,"f":0.15,"d":-0.011,"a":1.006,"b":0.006},
{"t":11595,"f":0.12,"d":0.009,"a":1.009,"b":0.009},
{"t":11615,"f":0.17,"d":-0.005,"a":1.004,"b":0.004},
{"t":11635,"f":0.15,"d":0.01,"a":1.008,"b":0.008},
{"t":11655,"f":0.2,"d":-0.007,"a":1.005,"b":0.005},
{"t":11675,"f":0.13,"d":-0.012,"a":1.011,"b":0.011},
{"t":11695,"f":0.01,"d":0.006,"a":1.003,"b":0.003},
{"t":11715,"f":-0.08,"d":-0.008,"a":1.006,"b":0.006},
{"t":11740,"f":-0.11,"d":0.005,"a":1.002,"b":0.002},
{"t":11770,"f":-0.06,"d":-0.007,"a":1.005,"b":0.005},
{"t":11800,"f":-0.09,"d":0.009,"a":1.003,"b":0.003},
{"t":11830,"f":-0.05,"d":-0.005,"a":1.007,"b":0.007},
{"t":11860,"f":-0.08,"d":0.007,"a":1.002,"b":0.002},
{"t":11890,"f":-0.04,"d":-0.008,"a":1.005,"b":0.005},
{"t":11920,"f":-0.07,"d":0.006,"a":1.003,"b":0.003},
{"t":11950,"f":-0.03,"d":-0.006,"a":1.006,"b":0.006},
{"t":11980,"f":-0.06,"d":0.008,"a":1.002,"b":0.002},
{"t":12010,"f":-0.02,"d":-0.007,"a":1.005,"b":0.005},
{"t":12040,"f":-0.04,"d":0.005,"a":1.003,"b":0.003},
{"t":12060,"f":-0.02,"d":-0.006,"a":1.004,"b":0.004},
{"t":12080,"f":0.02,"d":0.007,"a":1.007,"b":0.007},
{"t":12095,"f":-0.02,"d":-0.008,"a":1.005,"b":0.005},
{"t":12110,"f":0.03,"d":0.009,"a":1.009,"b":0.009},
{"t":12122,"f":-0.06,"d":0.025,"a":1.022,"b":0.022},
{"t":12130,"f":0.33,"d":0.003,"a":1.04,"b":0.04},
{"t":12142,"f":-0.3,"d":-0.037,"a":1.016,"b":0.016},
{"t":12155,"f":-0.09,"d":0.013,"a":1.01,"b":0.01},
{"t":12170,"f":0.03,"d":-0.009,"a":1.006,"b":0.006},
{"t":12185,"f":-0.01,"d":0.01,"a":1.009,"b":0.009},
{"t":12200,"f":0.06,"d":-0.011,"a":1.004,"b":0.004},
{"t":12220,"f":0.02,"d":0.007,"a":1.008,"b":0.008},
{"t":12240,"f":0.1,"d":-0.008,"a":1.005,"b":0.005},
{"t":12260,"f":0.05,"d":0.01,"a":1.01,"b":0.01},
{"t":12280,"f":0.12,"d":-0.007,"a":1.003,"b":0.003},
{"t":12300,"f":0.09,"d":0.009,"a":1.008,"b":0.008},
{"t":12320,"f":0.15,"d":-0.01,"a":1.006,"b":0.006},
{"t":12340,"f":0.12,"d":0.006,"a":1.009,"b":0.009},
{"t":12360,"f":0.17,"d":-0.006,"a":1.004,"b":0.004},
{"t":12380,"f":0.15,"d":0.01,"a":1.008,"b":0.008},
{"t":12400,"f":0.2,"d":-0.008,"a":1.005,"b":0.005},
{"t":12420,"f":0.12,"d":-0.011,"a":1.01,"b":0.01},
{"t":12440,"f":0,"d":0.007,"a":1.003,"b":0.003},
{"t":12460,"f":-0.08,"d":-0.006,"a":1.006,"b":0.006},
{"t":12485,"f":-0.1,"d":0.008,"a":1.002,"b":0.002},
{"t":12515,"f":-0.06,"d":-0.007,"a":1.005,"b":0.005},
{"t":12545,"f":-0.09,"d":0.006,"a":1.003,"b":0.003},
{"t":12575,"f":-0.05,"d":-0.008,"a":1.007,"b":0.007},
{"t":12605,"f":-0.08,"d":0.005,"a":1.002,"b":0.002},
{"t":12635,"f":-0.04,"d":-0.006,"a":1.005,"b":0.005},
{"t":12665,"f":-0.07,"d":0.009,"a":1.003,"b":0.003},
{"t":12695,"f":-0.03,"d":-0.005,"a":1.006,"b":0.006},
{"t":12725,"f":-0.06,"d":0.007,"a":1.002,"b":0.002},
{"t":12755,"f":-0.02,"d":-0.007,"a":1.005,"b":0.005},
{"t":12780,"f":-0.04,"d":0.006,"a":1.003,"b":0.003},
{"t":12793,"f":-0.03,"d":0.006,"a":1.004,"b":0.004},
{"t":12813,"f":0.01,"d":-0.007,"a":1.006,"b":0.006},
{"t":12828,"f":-0.02,"d":0.008,"a":1.008,"b":0.008},
{"t":12843,"f":0.03,"d":-0.005,"a":1.005,"b":0.005},
{"t":12855,"f":-0.06,"d":0.023,"a":1.021,"b":0.021},
{"t":12863,"f":0.44,"d":0.004,"a":1.035,"b":0.035},
{"t":12875,"f":-0.25,"d":-0.038,"a":1.015,"b":0.015},
{"t":12888,"f":-0.08,"d":0.014,"a":1.01,"b":0.01},
{"t":12903,"f":0.03,"d":-0.01,"a":1.007,"b":0.007},
{"t":12918,"f":-0.01,"d":0.011,"a":1.01,"b":0.01},
{"t":12933,"f":0.06,"d":-0.012,"a":1.004,"b":0.004},
{"t":12953,"f":0.02,"d":0.008,"a":1.009,"b":0.009},
{"t":12973,"f":0.1,"d":-0.006,"a":1.005,"b":0.005},
{"t":12993,"f":0.05,"d":0.01,"a":1.01,"b":0.01},
{"t":13013,"f":0.12,"d":-0.009,"a":1.003,"b":0.003},
{"t":13033,"f":0.09,"d":0.007,"a":1.008,"b":0.008},
{"t":13053,"f":0.15,"d":-0.011,"a":1.006,"b":0.006},
{"t":13073,"f":0.12,"d":0.009,"a":1.009,"b":0.009},
{"t":13093,"f":0.17,"d":-0.005,"a":1.004,"b":0.004},
{"t":13113,"f":0.15,"d":0.01,"a":1.008,"b":0.008},
{"t":13133,"f":0.2,"d":-0.007,"a":1.005,"b":0.005},
{"t":13153,"f":0.13,"d":-0.012,"a":1.011,"b":0.011},
{"t":13173,"f":0.01,"d":0.006,"a":1.003,"b":0.003},
{"t":13193,"f":-0.08,"d":-0.008,"a":1.006,"b":0.006},
{"t":13218,"f":-0.11,"d":0.005,"a":1.002,"b":0.002},
{"t":13248,"f":-0.06,"d":-0.007,"a":1.005,"b":0.005},
{"t":13278,"f":-0.09,"d":0.009,"a":1.003,"b":0.003},
{"t":13308,"f":-0.05,"d":-0.005,"a":1.007,"b":0.007},
{"t":13338,"f":-0.08,"d":0.007,"a":1.002,"b":0.002},
{"t":13368,"f":-0.04,"d":-0.008,"a":1.005,"b":0.005},
{"t":13398,"f":-0.07,"d":0.006,"a":1.003,"b":0.003},
{"t":13428,"f":-0.03,"d":-0.006,"a":1.006,"b":0.006},
{"t":13458,"f":-0.05,"d":0.008,"a":1.002,"b":0.002},
{"t":13480,"f":-0.02,"d":-0.007,"a":1.005,"b":0.005},
{"t":13490,"f":-0.03,"d":0.006,"a":1.004,"b":0.004},
{"t":13510,"f":0.01,"d":-0.008,"a":1.007,"b":0.007},
{"t":13525,"f":-0.02,"d":0.007,"a":1.005,"b":0.005},
{"t":13540,"f":0.04,"d":-0.006,"a":1.009,"b":0.009},
{"t":13552,"f":-0.06,"d":0.035,"a":1.027,"b":0.027},
{"t":13560,"f":0.4,"d":0.003,"a":1.036,"b":0.036},
{"t":13572,"f":-0.27,"d":-0.035,"a":1.015,"b":0.015},
{"t":13585,"f":-0.08,"d":0.014,"a":1.01,"b":0.01},
{"t":13600,"f":0.05,"d":-0.01,"a":1.007,"b":0.007},
{"t":13615,"f":0.01,"d":0.011,"a":1.01,"b":0.01},
{"t":13630,"f":0.09,"d":-0.012,"a":1.004,"b":0.004},
{"t":13650,"f":0.05,"d":0.008,"a":1.009,"b":0.009},
{"t":13670,"f":0.14,"d":-0.006,"a":1.005,"b":0.005},
{"t":13690,"f":0.1,"d":0.01,"a":1.01,"b":0.01},
{"t":13710,"f":0.18,"d":-0.009,"a":1.003,"b":0.003},
{"t":13730,"f":0.15,"d":0.007,"a":1.008,"b":0.008},
{"t":13750,"f":0.22,"d":-0.011,"a":1.006,"b":0.006},
{"t":13770,"f":0.2,"d":0.009,"a":1.009,"b":0.009},
{"t":13790,"f":0.25,"d":-0.005,"a":1.004,"b":0.004},
{"t":13810,"f":0.23,"d":0.01,"a":1.008,"b":0.008},
{"t":13830,"f":0.3,"d":-0.007,"a":1.005,"b":0.005},
{"t":13850,"f":0.22,"d":-0.012,"a":1.011,"b":0.011},
{"t":13870,"f":0.1,"d":0.006,"a":1.003,"b":0.003},
{"t":13890,"f":-0.02,"d":-0.008,"a":1.006,"b":0.006},
{"t":13910,"f":-0.08,"d":0.005,"a":1.002,"b":0.002},
{"t":13935,"f":-0.1,"d":-0.007,"a":1.005,"b":0.005},
{"t":13960,"f":-0.05,"d":0.009,"a":1.003,"b":0.003},
{"t":13985,"f":-0.04,"d":-0.005,"a":1.004,"b":0.004},
{"t":14000,"f":-0.03,"d":0.004,"a":1.003,"b":0.003}
]},
"vconcat": [
{
 "width": 873, "height": 82.7,
 "data": {"name": "ecg"},
 "layer": [
  {"mark": {"type": "line", "color": "#0000ff", "strokeWidth": 1},
   "encoding": {
    "x": {"field": "t", "type": "quantitative", "scale": {"domain": [0, 15000], "nice": false, "zero": false},
          "axis": {"orient": "bottom", "values": [0, 5000, 10000, 15000], "format": "d", "title": null}},
    "y": {"field": "f", "type": "quantitative", "scale": {"domain": [-0.5, 0.5], "nice": false, "zero": false},
          "axis": {"orient": "left", "values": [-0.5, 0, 0.5], "labelExpr": "'' + datum.value", "title": null}}
   }},
  {"mark": {"type": "line", "opacity": 0},
   "encoding": {
    "x": {"field": "t", "type": "quantitative", "scale": {"domain": [0, 15000], "nice": false, "zero": false},
          "axis": {"orient": "top", "values": [0, 5000, 10000, 15000], "labels": false, "title": "Filtered ECG signal"}},
    "y": {"field": "f", "type": "quantitative", "scale": {"domain": [-0.5, 0.5], "nice": false, "zero": false},
          "axis": {"orient": "right", "values": [-0.5, 0, 0.5], "labels": false, "title": null}}
   }}
 ],
 "resolve": {"axis": {"x": "independent", "y": "independent"}}
},
{
 "width": 873, "height": 82.7,
 "data": {"name": "ecg"},
 "layer": [
  {"mark": {"type": "line", "color": "#0000ff", "strokeWidth": 1},
   "encoding": {
    "x": {"field": "t", "type": "quantitative", "scale": {"domain": [0, 14000], "nice": false, "zero": false},
          "axis": {"orient": "bottom", "values": [0, 2000, 4000, 6000, 8000, 10000, 12000, 14000], "format": "d", "title": null}},
    "y": {"field": "d", "type": "quantitative", "scale": {"domain": [-0.04, 0.04], "nice": false, "zero": false},
          "axis": {"orient": "left", "values": [-0.04, -0.02, 0, 0.02, 0.04], "labelExpr": "'' + datum.value", "title": null}}
   }},
  {"mark": {"type": "line", "opacity": 0},
   "encoding": {
    "x": {"field": "t", "type": "quantitative", "scale": {"domain": [0, 14000], "nice": false, "zero": false},
          "axis": {"orient": "top", "values": [0, 2000, 4000, 6000, 8000, 10000, 12000, 14000], "labels": false, "title": "Differentiated ECG signal"}},
    "y": {"field": "d", "type": "quantitative", "scale": {"domain": [-0.04, 0.04], "nice": false, "zero": false},
          "axis": {"orient": "right", "values": [-0.04, -0.02, 0, 0.02, 0.04], "labels": false, "title": null}}
   }}
 ],
 "resolve": {"axis": {"x": "independent", "y": "independent"}}
},
{
 "width": 873, "height": 82.7,
 "data": {"name": "ecg"},
 "layer": [
  {"mark": {"type": "line", "color": "#0000ff", "strokeWidth": 1},
   "encoding": {
    "x": {"field": "t", "type": "quantitative", "scale": {"domain": [0, 14000], "nice": false, "zero": false},
          "axis": {"orient": "bottom", "values": [0, 2000, 4000, 6000, 8000, 10000, 12000, 14000], "format": "d", "title": null}},
    "y": {"field": "a", "type": "quantitative", "scale": {"domain": [1, 1.08], "nice": false, "zero": false},
          "axis": {"orient": "left", "values": [1, 1.02, 1.04, 1.06, 1.08], "labelExpr": "'' + datum.value", "title": null}}
   }},
  {"mark": {"type": "line", "opacity": 0},
   "encoding": {
    "x": {"field": "t", "type": "quantitative", "scale": {"domain": [0, 14000], "nice": false, "zero": false},
          "axis": {"orient": "top", "values": [0, 2000, 4000, 6000, 8000, 10000, 12000, 14000], "labels": false, "title": "First non-linear transformation"}},
    "y": {"field": "a", "type": "quantitative", "scale": {"domain": [1, 1.08], "nice": false, "zero": false},
          "axis": {"orient": "right", "values": [1, 1.02, 1.04, 1.06, 1.08], "labels": false, "title": null}}
   }}
 ],
 "resolve": {"axis": {"x": "independent", "y": "independent"}}
},
{
 "width": 873, "height": 82.7,
 "data": {"name": "ecg"},
 "title": {"text": "The results different steps in deriving the QRS complex from the", "orient": "bottom", "anchor": "end", "frame": "group", "font": "Open Sans", "fontSize": 20.5, "fontWeight": "normal", "color": "#231f20", "dx": 16, "offset": 14},
 "layer": [
  {"mark": {"type": "line", "color": "#0000ff", "strokeWidth": 1},
   "encoding": {
    "x": {"field": "t", "type": "quantitative", "scale": {"domain": [0, 14000], "nice": false, "zero": false},
          "axis": {"orient": "bottom", "values": [0, 2000, 4000, 6000, 8000, 10000, 12000, 14000], "format": "d", "title": null}},
    "y": {"field": "b", "type": "quantitative", "scale": {"domain": [0, 0.06], "nice": false, "zero": false},
          "axis": {"orient": "left", "values": [0, 0.02, 0.04, 0.06], "labelExpr": "'' + datum.value", "title": null}}
   }},
  {"mark": {"type": "line", "opacity": 0},
   "encoding": {
    "x": {"field": "t", "type": "quantitative", "scale": {"domain": [0, 14000], "nice": false, "zero": false},
          "axis": {"orient": "top", "values": [0, 2000, 4000, 6000, 8000, 10000, 12000, 14000], "labels": false, "title": "Second non-linear transformation"}},
    "y": {"field": "b", "type": "quantitative", "scale": {"domain": [0, 0.06], "nice": false, "zero": false},
          "axis": {"orient": "right", "values": [0, 0.02, 0.04, 0.06], "labels": false, "title": null}}
   }}
 ],
 "resolve": {"axis": {"x": "independent", "y": "independent"}}
}
],
"title": {
 "text": "Figure 4 QRS detection methodology.",
 "subtitle": "pre-processed ECG signals are illustrated.",
 "orient": "bottom", "anchor": "start",
 "font": "Open Sans", "fontSize": 17, "fontWeight": "bold", "color": "#231f20",
 "subtitleFont": "Open Sans", "subtitleFontSize": 20.5, "subtitleFontWeight": "normal", "subtitleColor": "#231f20",
 "subtitlePadding": 3,
 "dx": -19, "dy": -28, "offset": 10
},
"config": {
 "view": {"stroke": "#555555", "strokeWidth": 1},
 "axis": {"domain": false, "grid": false, "tickSize": -8, "tickColor": "#333333", "tickWidth": 1,
          "labelFont": "Liberation Sans", "labelFontSize": 9, "labelColor": "#111111", "labelFlush": false,
          "titleFont": "Liberation Sans", "titleFontSize": 8.5, "titleFontWeight": "normal", "titleColor": "#222222"},
 "axisBottom": {"labelPadding": 11},
 "axisLeft": {"labelPadding": 12},
 "axisTop": {"titlePadding": 5}
}
}
